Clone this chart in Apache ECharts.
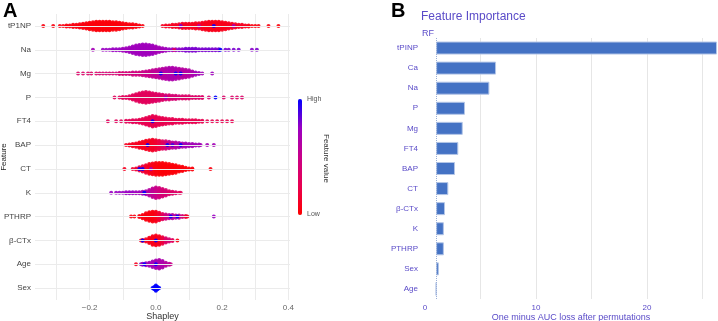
<!DOCTYPE html>
<html>
<head>
<meta charset="utf-8">
<script src="https://cdn.jsdelivr.net/npm/echarts@6/dist/echarts.min.js"></script>
<style>
  html, body { margin: 0; padding: 0; background: #fff; }
  #chart { width: 718px; height: 321px; }
</style>
</head>
<body>
<div id="chart"></div>
<script>
// ---- panel A: SHAP beeswarm, one list per feature: [shapley, dots stacked, feature value 0..1]
var features = ["tP1NP", "Na", "Mg", "P", "FT4", "BAP", "CT", "K", "PTHRP", "β-CTx", "Age", "Sex"];

var swarmTP1NP = [
  [-0.34,1,0.05],[-0.31,1,0.05],[-0.29,1,0.05],[-0.28,1,0.05],[-0.27,2,0.05],[-0.26,2,0.05],[-0.25,3,0.05],
  [-0.24,3,0.05],[-0.23,4,0.05],[-0.22,5,0.05],[-0.21,6,0.05],[-0.20,7,0.03],[-0.19,8,0.03],[-0.18,9,0.03],
  [-0.17,9,0.03],[-0.16,9,0.03],[-0.15,9,0.03],[-0.14,9,0.03],[-0.13,8,0.03],[-0.12,8,0.03],[-0.11,7,0.05],
  [-0.10,6,0.05],[-0.09,5,0.05],[-0.08,4,0.05],[-0.07,4,0.05],[-0.06,3,0.05],[-0.05,2,0.05],[-0.04,1,0.05],
  [0.02,1,0.1],[0.03,2,0.1],[0.04,2,0.1],[0.05,3,0.1],[0.06,3,0.1],[0.07,4,0.12],[0.08,5,0.12],[0.09,5,0.1],
  [0.10,5,0.1],[0.11,5,0.1],[0.12,6,0.1],[0.13,6,0.1],[0.14,7,0.1],[0.15,8,0.08],[0.16,9,0.08],[0.17,9,0.08],
  [0.18,9,0.08],[0.19,9,0.08],[0.20,8,0.08],[0.21,7,0.08],[0.22,6,0.1],[0.23,5,0.1],[0.24,4,0.1],[0.25,3,0.12],
  [0.26,3,0.1],[0.27,2,0.1],[0.28,2,0.05],[0.29,1,0.05],[0.30,1,0.05],[0.31,1,0.05],[0.34,1,0.05],[0.37,1,0.03],
  [0.075,1,0.8],[0.175,1,1],[0.235,1,0.7],[0.13,1,0.6]
];
var swarmNa = [
  [-0.19,1,0.7],[-0.16,1,0.75],[-0.15,1,0.75],[-0.14,1,0.75],[-0.13,2,0.75],[-0.12,2,0.75],[-0.11,2,0.75],
  [-0.10,3,0.72],[-0.09,4,0.72],[-0.08,5,0.72],[-0.07,7,0.72],[-0.06,9,0.72],[-0.05,10,0.72],[-0.04,11,0.72],
  [-0.03,11,0.72],[-0.02,10,0.72],[-0.01,9,0.72],[0.00,7,0.7],[0.01,5,0.7],[0.02,4,0.7],[0.03,3,0.72],
  [0.04,2,0.75],[0.05,2,0.75],[0.06,2,0.75],[0.07,2,0.78],[0.08,2,0.78],[0.09,3,0.8],[0.10,3,0.8],[0.11,3,0.8],
  [0.12,3,0.8],[0.13,2,0.8],[0.14,2,0.8],[0.15,2,0.8],[0.16,2,0.82],[0.17,2,0.8],[0.18,2,0.8],[0.19,2,0.82],
  [0.21,1,0.8],[0.22,1,0.8],[0.235,1,0.8],[0.25,1,0.8],[0.29,1,0.78],[0.305,1,0.8],
  [0.195,1,1],[0.055,1,0.3]
];
var swarmMg = [
  [-0.235,1,0.35],[-0.22,1,0.35],[-0.205,1,0.35],[-0.195,1,0.35],[-0.18,1,0.35],[-0.17,1,0.4],[-0.16,1,0.4],
  [-0.15,1,0.4],[-0.14,1,0.4],[-0.13,1,0.4],[-0.12,1,0.4],[-0.11,2,0.4],[-0.10,2,0.4],[-0.09,2,0.42],
  [-0.08,2,0.42],[-0.07,3,0.45],[-0.06,3,0.45],[-0.05,3,0.45],[-0.04,4,0.48],[-0.03,5,0.5],[-0.02,6,0.5],
  [-0.01,7,0.55],[0.00,8,0.55],[0.01,9,0.58],[0.02,10,0.6],[0.03,11,0.62],[0.04,12,0.65],[0.05,12,0.65],
  [0.06,11,0.65],[0.07,10,0.62],[0.08,9,0.6],[0.09,8,0.6],[0.10,7,0.62],[0.11,5,0.65],[0.12,3,0.7],
  [0.13,2,0.7],[0.14,1,0.7],[0.17,1,0.72],
  [0.015,1,1],[0.06,1,1],[0.075,1,1]
];
var swarmP = [
  [-0.125,1,0.3],[-0.11,1,0.3],[-0.10,2,0.3],[-0.09,2,0.3],[-0.08,3,0.3],[-0.07,5,0.3],[-0.06,7,0.3],
  [-0.05,9,0.3],[-0.04,10,0.3],[-0.03,11,0.3],[-0.02,10,0.3],[-0.01,9,0.32],[0.00,8,0.32],[0.01,7,0.35],
  [0.02,6,0.35],[0.03,5,0.38],[0.04,5,0.38],[0.05,4,0.4],[0.06,4,0.4],[0.07,3,0.4],[0.08,3,0.35],[0.09,3,0.35],
  [0.10,3,0.35],[0.11,2,0.35],[0.12,2,0.35],[0.13,2,0.35],[0.14,2,0.35],[0.16,1,0.4],[0.205,1,0.35],
  [0.23,1,0.35],[0.245,1,0.35],[0.26,1,0.35],
  [0.18,1,1],[0.03,1,0.7]
];
var swarmFT4 = [
  [-0.145,1,0.3],[-0.12,1,0.3],[-0.105,1,0.3],[-0.09,2,0.28],[-0.08,2,0.28],[-0.07,3,0.28],[-0.06,3,0.28],
  [-0.05,4,0.25],[-0.04,5,0.25],[-0.03,7,0.25],[-0.02,9,0.25],[-0.01,11,0.25],[0.00,10,0.25],[0.01,8,0.25],
  [0.02,7,0.25],[0.03,6,0.25],[0.04,5,0.25],[0.05,5,0.25],[0.06,4,0.25],[0.07,4,0.25],[0.08,4,0.25],
  [0.09,3,0.25],[0.10,3,0.25],[0.11,3,0.25],[0.12,3,0.25],[0.13,2,0.25],[0.14,2,0.25],[0.155,1,0.25],
  [0.17,1,0.25],[0.185,1,0.25],[0.20,1,0.25],[0.215,1,0.25],[0.23,1,0.25],
  [-0.01,1,1]
];
var swarmBAP = [
  [-0.09,1,0.1],[-0.08,2,0.1],[-0.07,3,0.1],[-0.06,4,0.1],[-0.05,6,0.1],[-0.04,7,0.1],[-0.03,9,0.1],
  [-0.02,10,0.1],[-0.01,11,0.12],[0.00,10,0.15],[0.01,9,0.2],[0.02,8,0.3],[0.03,8,0.4],[0.04,7,0.5],
  [0.05,6,0.55],[0.06,6,0.6],[0.07,5,0.65],[0.08,4,0.65],[0.09,4,0.7],[0.10,3,0.7],[0.11,3,0.7],[0.12,2,0.7],
  [0.13,2,0.7],[0.135,1,0.7],[0.155,1,0.7],[0.175,1,0.7],
  [-0.025,1,1],[0.035,1,1],[0.05,1,0.9],[0.075,1,1]
];
var swarmCT = [
  [-0.095,1,0.1],[-0.07,1,0.15],[-0.06,2,0.15],[-0.05,4,0.2],[-0.04,6,0.2],[-0.03,8,0.15],[-0.02,10,0.1],
  [-0.01,11,0.08],[0.00,12,0.05],[0.01,12,0.03],[0.02,12,0.03],[0.03,11,0.03],[0.04,10,0.03],[0.05,9,0.03],
  [0.06,8,0.03],[0.07,6,0.03],[0.08,5,0.03],[0.09,3,0.03],[0.10,2,0.03],[0.11,2,0.03],[0.165,1,0.05],
  [-0.05,1,1],[-0.04,1,1],[-0.015,1,0.7]
];
var swarmK = [
  [-0.135,1,0.75],[-0.12,1,0.75],[-0.11,1,0.75],[-0.10,1,0.75],[-0.09,2,0.75],[-0.08,2,0.75],[-0.07,2,0.75],
  [-0.06,2,0.72],[-0.05,2,0.72],[-0.04,3,0.7],[-0.03,4,0.65],[-0.02,6,0.6],[-0.01,9,0.55],[0.00,11,0.5],
  [0.01,10,0.45],[0.02,8,0.4],[0.03,6,0.4],[0.04,4,0.35],[0.05,3,0.35],[0.06,2,0.35],[0.07,1,0.3],[0.075,1,0.3],
  [-0.035,1,1]
];
var swarmPTHRP = [
  [-0.075,1,0.05],[-0.065,1,0.05],[-0.05,2,0.05],[-0.04,4,0.05],[-0.03,7,0.05],[-0.02,9,0.05],[-0.01,10,0.05],
  [0.00,10,0.08],[0.01,8,0.15],[0.02,6,0.3],[0.03,5,0.45],[0.04,4,0.55],[0.05,4,0.6],[0.06,3,0.6],[0.07,3,0.55],
  [0.08,2,0.4],[0.09,2,0.2],[0.095,1,0.1],[0.175,1,0.75],
  [0.045,1,1],[0.065,1,1]
];
var swarmBCTx = [
  [-0.045,1,0.1],[-0.04,2,0.1],[-0.03,3,0.1],[-0.02,6,0.08],[-0.01,9,0.08],[0.00,10,0.08],[0.01,9,0.1],
  [0.02,7,0.2],[0.03,5,0.35],[0.04,3,0.4],[0.05,2,0.3],[0.065,1,0.05],
  [-0.04,1,1],[0.0,1,1]
];
var swarmAge = [
  [-0.06,1,0.1],[-0.045,1,0.8],[-0.04,2,0.75],[-0.03,3,0.72],[-0.02,4,0.7],[-0.01,6,0.7],[0.00,8,0.68],
  [0.01,9,0.65],[0.02,7,0.65],[0.03,4,0.6],[0.04,2,0.6],[0.045,1,0.5],
  [-0.035,1,1],[0.0,1,1]
];
var swarmSex = [
  [-0.01,1,1],[-0.005,3,1],[0.0,6,1],[0.005,3,1],[0.01,1,1]
];
var swarms = [swarmTP1NP, swarmNa, swarmMg, swarmP, swarmFT4, swarmBAP, swarmCT, swarmK,
              swarmPTHRP, swarmBCTx, swarmAge, swarmSex];

// ---- panel B: permutation importance (RF)
var impFeatures = ["tPINP", "Ca", "Na", "P", "Mg", "FT4", "BAP", "CT", "β-CTx", "K", "PTHRP", "Sex", "Age"];
var impLoss = [26.3, 6.4, 5.8, 3.6, 3.4, 3.0, 2.7, 2.1, 1.8, 1.7, 1.7, 1.25, 1.0];
var fullModelLoss = 1.0;

var purple = "#5a4bc8";
var font = "'Liberation Sans', Arial, sans-serif";
var stackStep = 0.045; // vertical spacing of stacked dots, in rows

var points = [];
swarms.forEach(function (bins, row) {
  bins.forEach(function (b) {
    var n = b[1];
    for (var k = 0; k < n; k++) {
      points.push([b[0], row + (k - (n - 1) / 2) * stackStep, b[2]]);
    }
  });
});

var chart = echarts.init(document.getElementById("chart"));
var option = {
  animation: false,
  textStyle: { fontFamily: font },
  grid: [
    { left: 35, right: 428, top: 14, bottom: 21, outerBoundsMode: "none" },
    { left: 425, right: 1, top: 38, bottom: 22, outerBoundsMode: "none" }
  ],
  xAxis: [
    {
      type: "value", gridIndex: 0, min: -0.365, max: 0.405,
      minInterval: 0.1, maxInterval: 0.1,
      axisLine: { show: false }, axisTick: { show: false },
      splitLine: { show: true, showMinLine: false, showMaxLine: false, lineStyle: { color: "#ebebeb" } },
      axisLabel: {
        fontSize: 8, color: "#666", margin: 4,
        formatter: function (v) {
          var r = Math.round(v * 10);
          if (Math.abs(v * 10 - r) > 1e-6 || r % 2 !== 0) return "";
          return (r < 0 ? "−" : "") + Math.abs(r / 10).toFixed(1);
        }
      },
      name: "Shapley", nameLocation: "middle", nameGap: 12, nameMoveOverlap: false,
      nameTextStyle: { fontSize: 9, color: "#333" }
    },
    {
      type: "value", gridIndex: 1, min: 0, max: 26.3, interval: 5,
      axisLine: { show: false }, axisTick: { show: false },
      splitLine: { show: true, showMinLine: false, showMaxLine: false, lineStyle: { color: "#e6e6e6" } },
      axisLabel: {
        fontSize: 8, color: purple, margin: 5,
        formatter: function (v) { return v % 10 === 0 ? String(v) : ""; }
      },
      name: "One minus AUC loss after permutations", nameLocation: "middle", nameGap: 14, nameMoveOverlap: false,
      nameTextStyle: { fontSize: 9, color: purple }
    }
  ],
  yAxis: [
    {
      type: "category", gridIndex: 0, data: features, inverse: true,
      axisLine: { show: false }, axisTick: { show: false }, splitLine: { show: false },
      axisLabel: { fontSize: 8, color: "#444", margin: 4 },
      name: "Feature", nameLocation: "middle", nameGap: 27, nameRotate: 90, nameMoveOverlap: false,
      nameTextStyle: { fontSize: 8, color: "#222" }
    },
    { type: "value", gridIndex: 0, min: -0.5, max: 11.5, inverse: true, show: false },
    {
      type: "category", gridIndex: 1, data: impFeatures, inverse: true,
      axisLine: { show: false }, axisTick: { show: false },
      axisLabel: { fontSize: 8, color: purple, margin: 7 }
    }
  ],
  visualMap: {
    type: "continuous", min: 0, max: 1, dimension: 2, seriesIndex: 1,
    orient: "vertical", left: 298, top: 99, itemWidth: 4, itemHeight: 116,
    padding: 0, calculable: false, text: null, hoverLink: false,
    inRange: { color: ["#ff0000", "#e80050", "#c90089", "#9a00c3", "#0000ff"] }
  },
  graphic: [
    { type: "text", left: 3, top: 1, style: { text: "A", font: "bold 20px " + font, fill: "#000" } },
    { type: "text", left: 391, top: 1, style: { text: "B", font: "bold 20px " + font, fill: "#000" } },
    { type: "text", left: 421, top: 11, style: { text: "Feature Importance", font: "12px " + font, fill: purple } },
    { type: "text", left: 422, top: 29, style: { text: "RF", font: "9px " + font, fill: purple } },
    { type: "text", left: 307, top: 96, style: { text: "High", font: "7px " + font, fill: "#555" } },
    { type: "text", left: 307, top: 211, style: { text: "Low", font: "7px " + font, fill: "#555" } },
    {
      type: "text", x: 330, y: 134, rotation: -Math.PI / 2,
      style: { text: "Feature value", font: "8px " + font, fill: "#333" }
    }
  ],
  series: [
    {
      // row guide lines of the beeswarm
      type: "line", xAxisIndex: 0, yAxisIndex: 1, data: [], z: 1, silent: true,
      markLine: {
        silent: true, symbol: "none", label: { show: false },
        lineStyle: { color: "#ebebeb", width: 1, type: "solid" },
        data: features.map(function (f, i) { return { yAxis: i }; })
      }
    },
    {
      type: "scatter", xAxisIndex: 0, yAxisIndex: 1, z: 3,
      symbol: "circle", symbolSize: 4,
      itemStyle: { opacity: 0.9, borderWidth: 0 },
      data: points
    },
    {
      type: "bar", xAxisIndex: 1, yAxisIndex: 2, stack: "loss", silent: true,
      barWidth: 13, itemStyle: { color: "rgba(0,0,0,0)" },
      data: impLoss.map(function () { return fullModelLoss; })
    },
    {
      type: "bar", xAxisIndex: 1, yAxisIndex: 2, stack: "loss",
      barWidth: 13,
      itemStyle: { color: "#4472c4", borderColor: "#b4c6e7", borderWidth: 1 },
      data: impLoss.map(function (v) { return +(v - fullModelLoss).toFixed(3); }),
      markLine: {
        silent: true, symbol: "none", label: { show: false },
        lineStyle: { color: "#9aaed6", width: 1, type: "dotted" },
        data: [{ xAxis: fullModelLoss }]
      }
    }
  ]
};
chart.setOption(option);
window.addEventListener("resize", chart.resize);
</script>
</body>
</html>
